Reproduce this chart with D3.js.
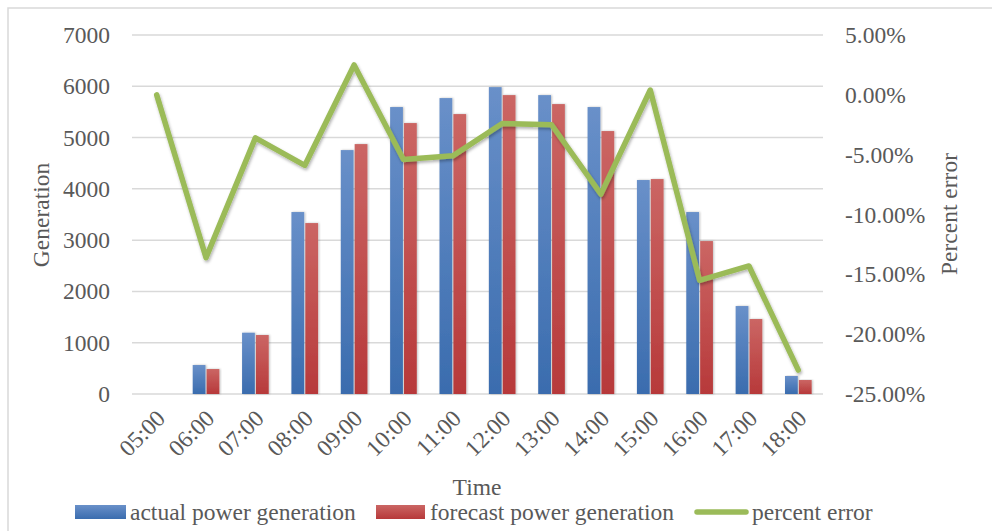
<!DOCTYPE html>
<html><head><meta charset="utf-8">
<script src="https://cdn.jsdelivr.net/npm/d3@7"></script>
<style>body{margin:0;background:#fff;}svg{display:block;font-family:"Liberation Serif","Times New Roman",serif;}</style>
</head><body>
<svg id="c" width="992" height="531"></svg>
<script>
const categories = ["05:00","06:00","07:00","08:00","09:00","10:00","11:00","12:00","13:00","14:00","15:00","16:00","17:00","18:00"];
const actual = [0,565,1195,3548,4756,5595,5770,5984,5828,5595,4172,3548,1715,351];
const forecast = [0,487,1150,3333,4873,5283,5458,5828,5653,5127,4191,2982,1462,273];
const percentError = [0.0,-13.6,-3.6,-5.9,2.5,-5.4,-5.1,-2.4,-2.5,-8.3,0.4,-15.5,-14.3,-23.0];
const leftTicks = [0,1000,2000,3000,4000,5000,6000,7000];
const rightTicks = [-25,-20,-15,-10,-5,0,5];
const seriesNames = ["actual power generation","forecast power generation","percent error"];

const svg = d3.select("#c");
const W=992,H=531;
const m={l:132,r:823,t:35,b:394};
const textColor="#595959";
const FS=23.5;

// border
svg.append("rect").attr("x",8).attr("y",8).attr("width",W).attr("height",H).attr("fill","none").attr("stroke","#d9d9d9").attr("stroke-width",1.5);

const defs=svg.append("defs");
function grad(id,top,bot){
  const g=defs.append("linearGradient").attr("id",id).attr("x1",0).attr("y1",0).attr("x2",0).attr("y2",1);
  g.append("stop").attr("offset","0%").attr("stop-color",top);
  g.append("stop").attr("offset","100%").attr("stop-color",bot);
}
grad("gb","#6990c9","#3a6cae");
grad("gr","#cb6664","#b7393a");
const f=defs.append("filter").attr("id","sh").attr("x","-10%").attr("y","-10%").attr("width","120%").attr("height","130%");
f.append("feDropShadow").attr("dx",1).attr("dy",2).attr("stdDeviation",1.5).attr("flood-color","#000").attr("flood-opacity",0.3);
const fb=defs.append("filter").attr("id","shb").attr("x","-20%").attr("y","-5%").attr("width","140%").attr("height","110%");
fb.append("feDropShadow").attr("dx",1).attr("dy",0).attr("stdDeviation",0.8).attr("flood-color","#000").attr("flood-opacity",0.25);

const x=d3.scaleBand().domain(categories).range([m.l,m.r]).paddingInner(0.46).paddingOuter(0.23);
const yL=d3.scaleLinear().domain([0,7000]).range([m.b,m.t]);
const yR=d3.scaleLinear().domain([-25,5]).range([m.b,m.t]);

// gridlines
svg.append("g").selectAll("line").data(leftTicks).join("line")
  .attr("x1",m.l).attr("x2",m.r).attr("y1",d=>yL(d)).attr("y2",d=>yL(d))
  .attr("stroke","#d9d9d9").attr("stroke-width",1.5);

// left axis
const gl=svg.append("g").attr("transform",`translate(${m.l},0)`)
  .call(d3.axisLeft(yL).tickValues(leftTicks).tickSize(0).tickPadding(22).tickFormat(d3.format("d")));
gl.select(".domain").remove();
gl.selectAll("text").attr("font-size",FS).attr("fill",textColor).attr("font-family","Liberation Serif");

// right axis
const gr=svg.append("g").attr("transform",`translate(${m.r},0)`)
  .call(d3.axisRight(yR).tickValues(rightTicks).tickSize(0).tickPadding(22).tickFormat(d=>d.toFixed(2)+"%"));
gr.select(".domain").remove();
gr.selectAll("text").attr("font-size",FS).attr("fill",textColor).attr("font-family","Liberation Serif");

// bars
const sub=d3.scaleBand().domain([0,1]).range([0,x.bandwidth()]).paddingInner(0.08);
const bars=svg.append("g");
categories.forEach((c,i)=>{
  [[actual[i],"url(#gb)",0],[forecast[i],"url(#gr)",1]].forEach(([v,fill,k])=>{
    if(v<=0) return;
    bars.append("rect").attr("x",x(c)+sub(k)).attr("width",sub.bandwidth())
      .attr("y",yL(v)).attr("height",yL(0)-yL(v)).attr("fill",fill).attr("filter","url(#shb)");
  });
});

// line
const line=d3.line().x((d,i)=>x(categories[i])+x.bandwidth()/2).y(d=>yR(d));
svg.append("path").datum(percentError).attr("d",line).attr("fill","none")
  .attr("stroke","#9bbb59").attr("stroke-width",5.5).attr("stroke-linejoin","round").attr("stroke-linecap","round").attr("filter","url(#sh)");

// x labels
svg.append("g").selectAll("text").data(categories).join("text")
  .attr("transform",d=>`translate(${x(d)+x.bandwidth()/2+4},${m.b+20}) rotate(-45)`)
  .attr("text-anchor","end").attr("dy","0.35em").attr("font-size",FS).attr("fill",textColor).text(d=>d);

// axis titles
svg.append("text").attr("x",477).attr("y",495).attr("text-anchor","middle").attr("font-size",FS).attr("fill",textColor).text("Time");
svg.append("text").attr("transform","translate(49,215) rotate(-90)").attr("text-anchor","middle").attr("font-size",FS).attr("fill",textColor).text("Generation");
svg.append("text").attr("transform","translate(957,214) rotate(-90)").attr("text-anchor","middle").attr("font-size",FS).attr("fill",textColor).text("Percent error");

// legend
const lg=svg.append("g");
const ly=512;
lg.append("rect").attr("x",75).attr("y",ly-7).attr("width",51).attr("height",14).attr("fill","url(#gb)");
lg.append("text").attr("x",130).attr("y",ly+8).attr("font-size",FS).attr("fill",textColor).text(seriesNames[0]);
lg.append("rect").attr("x",376).attr("y",ly-7).attr("width",49).attr("height",14).attr("fill","url(#gr)");
lg.append("text").attr("x",430).attr("y",ly+8).attr("font-size",FS).attr("fill",textColor).text(seriesNames[1]);
lg.append("line").attr("x1",697).attr("x2",746).attr("y1",ly).attr("y2",ly).attr("stroke","#9bbb59").attr("stroke-width",5.5).attr("stroke-linecap","round");
lg.append("text").attr("x",752).attr("y",ly+8).attr("font-size",FS).attr("fill",textColor).text(seriesNames[2]);
</script>
</body></html>
